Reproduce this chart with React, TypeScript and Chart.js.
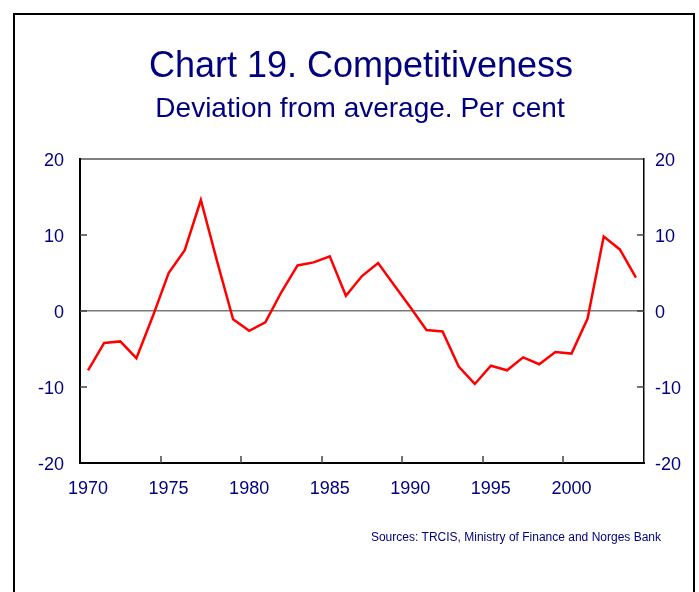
import React, { useEffect, useRef } from 'react';
import { Chart, registerables } from 'chart.js';

Chart.register(...registerables);

// ---- Data ----
const years = [
  1970, 1971, 1972, 1973, 1974, 1975, 1976, 1977, 1978, 1979,
  1980, 1981, 1982, 1983, 1984, 1985, 1986, 1987, 1988, 1989,
  1990, 1991, 1992, 1993, 1994, 1995, 1996, 1997, 1998, 1999,
  2000, 2001, 2002, 2003, 2004,
];
const values = [
  -7.8, -4.2, -4.0, -6.2, -0.8, 5.0, 8.0, 14.6, 6.6, -1.1,
  -2.6, -1.5, 2.5, 6.0, 6.4, 7.2, 2.0, 4.6, 6.3, 3.4,
  0.5, -2.5, -2.7, -7.3, -9.6, -7.2, -7.8, -6.1, -7.0, -5.4,
  -5.6, -1.0, 9.8, 8.1, 4.4,
];
const xTickValues = [1970, 1975, 1980, 1985, 1990, 1995, 2000, 2005];
const xTickLabelsShown = [1970, 1975, 1980, 1985, 1990, 1995, 2000];
const yTickValues = [-20, -10, 0, 10, 20];

const TITLE = 'Chart 19. Competitiveness';
const SUBTITLE = 'Deviation from average. Per cent';
const SOURCE = 'Sources: TRCIS, Ministry of Finance and Norges Bank';

const FONT = '"Liberation Sans", Arial, sans-serif';
const NAVY = '#000080';

const decorPlugin = {
  id: 'decor',
  afterDraw(chart: any) {
    const { ctx, chartArea, scales } = chart;
    const { left, right, top, bottom } = chartArea;
    ctx.save();

    // top border of plot area
    ctx.strokeStyle = '#000';
    ctx.lineWidth = 1.2;
    ctx.beginPath();
    ctx.moveTo(left, top);
    ctx.lineTo(right, top);
    ctx.stroke();

    // inward tick marks
    ctx.strokeStyle = '#444';
    ctx.lineWidth = 1.5;
    const tl = 7;
    const x = scales.x;
    xTickValues.forEach((v) => {
      if (v === x.min || v === x.max) return;
      const px = Math.round(x.getPixelForValue(v));
      ctx.beginPath();
      ctx.moveTo(px, bottom);
      ctx.lineTo(px, bottom - tl);
      ctx.stroke();
    });
    const y = scales.y;
    yTickValues.forEach((v) => {
      if (v === y.min || v === y.max) return;
      const py = Math.round(y.getPixelForValue(v));
      ctx.beginPath();
      ctx.moveTo(left, py);
      ctx.lineTo(left + tl, py);
      ctx.stroke();
      ctx.beginPath();
      ctx.moveTo(right, py);
      ctx.lineTo(right - tl, py);
      ctx.stroke();
    });

    // outer frame
    ctx.strokeStyle = '#000';
    ctx.lineWidth = 2;
    ctx.strokeRect(14, 14, 680, 620);

    // titles
    ctx.fillStyle = NAVY;
    ctx.textAlign = 'center';
    ctx.textBaseline = 'alphabetic';
    ctx.font = `36px ${FONT}`;
    ctx.fillText(TITLE, 361, 77);
    ctx.font = `28px ${FONT}`;
    ctx.fillText(SUBTITLE, 360, 117);

    // sources
    ctx.font = `12px ${FONT}`;
    ctx.textAlign = 'right';
    ctx.fillText(SOURCE, 661, 541);

    ctx.restore();
  },
};

export default function App() {
  const canvasRef = useRef<HTMLCanvasElement | null>(null);

  useEffect(() => {
    const canvas = canvasRef.current;
    if (!canvas) return;
    const tickFont = { family: FONT, size: 18 };

    const chart = new Chart(canvas, {
      type: 'line',
      data: {
        datasets: [
          {
            label: 'Competitiveness',
            data: years.map((yr, i) => ({ x: yr + 0.5, y: values[i] })),
            borderColor: '#ff0000',
            borderWidth: 2.5,
            pointRadius: 0,
            tension: 0,
            fill: false,
          },
        ],
      },
      options: {
        animation: false,
        responsive: false,
        devicePixelRatio: 1,
        layout: { padding: { top: 159, left: 0, right: 0, bottom: 0 } },
        plugins: {
          legend: { display: false },
          tooltip: { enabled: false },
          title: { display: false },
        },
        scales: {
          x: {
            type: 'linear',
            position: 'bottom',
            min: 1970,
            max: 2005,
            afterBuildTicks: (scale: any) => {
              scale.ticks = xTickValues.map((v) => ({ value: v }));
            },
            afterFit: (scale: any) => {
              scale.height = 129;
            },
            grid: { display: false, drawTicks: false },
            border: { display: true, color: '#000', width: 2 },
            ticks: {
              color: NAVY,
              font: tickFont,
              padding: 15,
              labelOffset: 8,
              maxRotation: 0,
              autoSkip: false,
              callback: (v: any) => (xTickLabelsShown.includes(Number(v)) ? String(v) : ''),
            },
          },
          y: {
            type: 'linear',
            position: 'left',
            min: -20,
            max: 20,
            afterBuildTicks: (scale: any) => {
              scale.ticks = yTickValues.map((v) => ({ value: v }));
            },
            afterFit: (scale: any) => {
              scale.width = 80;
            },
            grid: {
              display: true,
              drawTicks: false,
              color: (ctx: any) => (ctx.tick && ctx.tick.value === 0 ? '#7a7a7a' : 'rgba(0,0,0,0)'),
              lineWidth: 1.5,
            },
            border: { display: true, color: '#000', width: 2 },
            ticks: {
              color: NAVY,
              font: tickFont,
              padding: 16,
              labelOffset: 2,
              callback: (v: any) => String(v),
            },
          },
          y2: {
            type: 'linear',
            position: 'right',
            min: -20,
            max: 20,
            afterBuildTicks: (scale: any) => {
              scale.ticks = yTickValues.map((v) => ({ value: v }));
            },
            afterFit: (scale: any) => {
              scale.width = 55;
            },
            grid: { display: false, drawTicks: false },
            border: { display: true, color: '#000', width: 1.5 },
            ticks: {
              color: NAVY,
              font: tickFont,
              padding: 11,
              labelOffset: 2,
              callback: (v: any) => String(v),
            },
          },
        },
      },
      plugins: [decorPlugin],
    } as any);

    return () => {
      chart.destroy();
    };
  }, []);

  return (
    <div style={{ position: 'absolute', left: 0, top: 0, width: 699, height: 592, background: '#fff' }}>
      <canvas ref={canvasRef} width={699} height={592} style={{ display: 'block', width: 699, height: 592 }} />
    </div>
  );
}
